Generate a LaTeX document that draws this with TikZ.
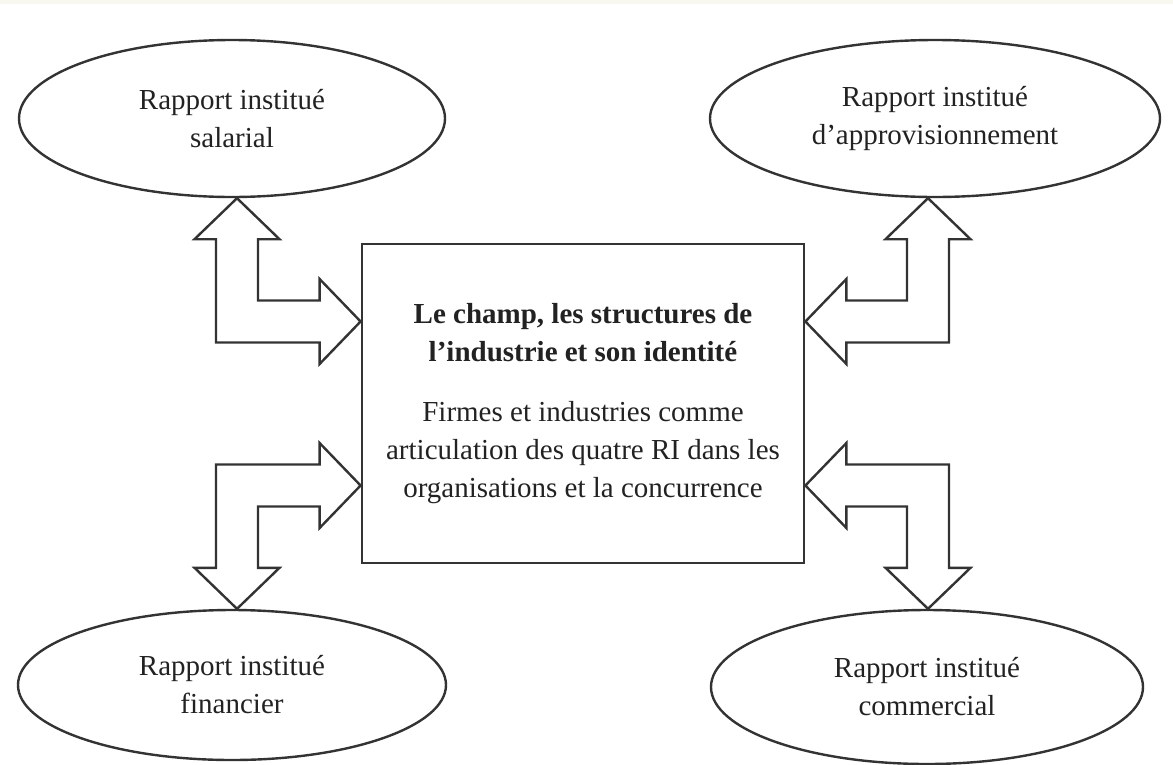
\documentclass[tikz,border=0pt]{standalone}
\usepackage{fontspec}
\setmainfont{Liberation Serif}
\usetikzlibrary{shapes.geometric,calc}
\definecolor{ink}{HTML}{333333}
\definecolor{txt}{HTML}{222222}
\definecolor{stripc}{HTML}{F8F8F1}
\tikzset{
  ellnode/.style={ellipse, draw=ink, line width=2.4pt, inner sep=0pt, align=center,
    text=txt, font=\fontsize{29}{38}\selectfont},
  boxnode/.style={rectangle, draw=ink, line width=2.8pt, inner sep=0pt, align=center,
    text=txt, font=\fontsize{29}{38}\selectfont},
  arrowshape/.style={draw=ink, line width=2.4pt, fill=white, line join=miter}
}
% #1 tip on ellipse, #2 tip on box, #3 horizontal sign, #4 vertical sign
\newcommand\dblL[4]{%
  \pgfmathsetmacro\pu{#3}\pgfmathsetmacro\pv{#4}%
  \pgfmathsetmacro\nu{-1*(#3)}\pgfmathsetmacro\nv{-1*(#4)}%
  \coordinate (tmpC) at (#1 |- #2);
  \draw[arrowshape] (#1)
    -- ($(#1)+(\pu*42.5,\pv*41)$)
    -- ($(#1)+(\pu*21,\pv*41)$)
    -- ($(tmpC)+(\pu*21,\nv*21)$)
    -- ($(#2)+(\nu*41,\nv*21)$)
    -- ($(#2)+(\nu*41,\nv*42.5)$)
    -- (#2)
    -- ($(#2)+(\nu*41,\pv*42.5)$)
    -- ($(#2)+(\nu*41,\pv*21)$)
    -- ($(tmpC)+(\nu*21,\pv*21)$)
    -- ($(#1)+(\nu*21,\pv*41)$)
    -- ($(#1)+(\nu*42.5,\pv*41)$)
    -- cycle;
}
\begin{document}
\begin{tikzpicture}[x=1pt,y=-1pt]
\useasboundingbox (0,0) rectangle (1173,764);
\fill[stripc] (0,0) rectangle (1173,4);
\begin{scope}
\clip (0,0) rectangle (1173,764);
\node[ellnode, minimum width=426pt, minimum height=157pt] (sal) at (232,118.5)
  {Rapport institué\\salarial};
\node[ellnode, minimum width=450pt, minimum height=157pt] (appro) at (935,118.5)
  {Rapport institué\\d’approvisionnement};
\node[ellnode, minimum width=428pt, minimum height=150pt] (fin) at (232,685)
  {Rapport institué\\financier};
\node[ellnode, minimum width=432pt, minimum height=154pt] (com) at (927,687)
  {Rapport institué\\commercial};
\end{scope}
\node[boxnode, minimum width=442pt, minimum height=319pt] (champ) at (583,403.5)
  {\textbf{Le champ, les structures de}\\\textbf{l’industrie et son identité}\\[22pt]
   Firmes et industries comme\\articulation des quatre RI dans les\\organisations et la concurrence};
\coordinate (a1) at ($(sal.south)+(5,0)$);
\coordinate (a2) at ($(appro.south)+(-7,0)$);
\coordinate (a3) at ($(fin.north)+(5,0)$);
\coordinate (a4) at ($(com.north)+(1,0)$);
\coordinate (b1) at ($(champ.west)+(0,-82)$);
\coordinate (b2) at ($(champ.east)+(0,-82)$);
\coordinate (b3) at ($(champ.west)+(0,82)$);
\coordinate (b4) at ($(champ.east)+(0,82)$);
\dblL{a1}{b1}{1}{1}
\dblL{a2}{b2}{-1}{1}
\dblL{a3}{b3}{1}{-1}
\dblL{a4}{b4}{-1}{-1}
\end{tikzpicture}
\end{document}
